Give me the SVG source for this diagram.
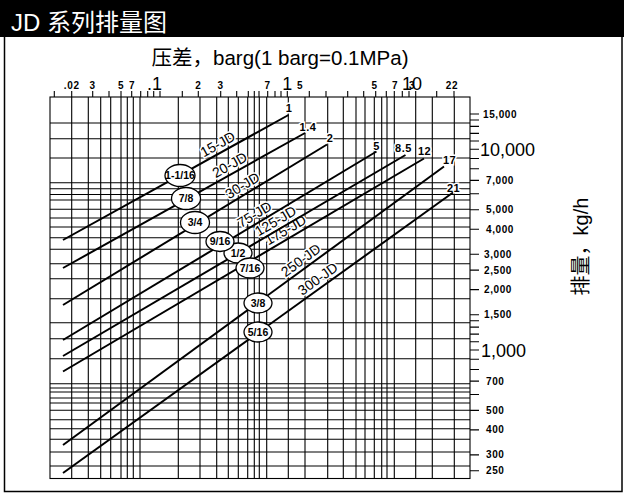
<svg xmlns="http://www.w3.org/2000/svg" width="624" height="493" viewBox="0 0 624 493">
<style>
.grid{stroke:#000;stroke-width:1.1;fill:none}
.frame{stroke:#000;stroke-width:1.5;fill:none}
.tick{stroke:#000;stroke-width:1.1;fill:none}
.curve{stroke:#000;stroke-width:2;fill:none;stroke-linecap:butt}
.sm{font-family:"Liberation Sans",Arial,sans-serif;font-weight:bold;font-size:10px;fill:#000;letter-spacing:0.6px}
.big{font-family:"Liberation Sans",Arial,sans-serif;font-size:18px;fill:#000}
.end{font-family:"Liberation Sans",Arial,sans-serif;font-weight:bold;font-size:11px;fill:#000;text-anchor:middle;stroke:#fff;stroke-width:3;paint-order:stroke;letter-spacing:0.5px}
.jd{font-family:"Liberation Sans",Arial,sans-serif;font-size:14px;fill:#000;text-anchor:middle;stroke:#fff;stroke-width:3;paint-order:stroke}
.node ellipse{fill:#fff;stroke:#000;stroke-width:1.3}
.node text{font-family:"Liberation Sans",Arial,sans-serif;font-weight:bold;font-size:10.5px;fill:#000;text-anchor:middle}
</style>
<rect x="0" y="0" width="624" height="493" fill="#fff"/>
<g id="header">
<rect x="0" y="0" width="624" height="37" fill="#000"/>
<text x="11" y="31" font-family="'Liberation Sans','Noto Sans CJK SC',sans-serif" font-size="24" fill="#fff">JD 系列排量图</text>
</g>
<rect class="frame" x="4.5" y="36" width="617.5" height="455.5"/>
<text x="280" y="65" text-anchor="middle" font-family="'Liberation Sans','Noto Sans CJK SC',sans-serif" font-size="20.5" fill="#000">压差，barg(1 barg=0.1MPa)</text>
<text transform="translate(588,246.5) rotate(-90)" text-anchor="middle" font-family="'Liberation Sans','Noto Sans CJK SC',sans-serif" font-size="20" fill="#000">排量，kg/h</text>

<g id="grid">
<rect class="grid" x="50" y="97" width="420" height="381.5" stroke-width="1.4"/>
<path class="grid" d="M50 123H470M50 138.7H470M50 158H470M50 182.7H470M50 188.7H470M50 194.5H470M50 200H470M50 209.3H470M50 218H470M50 227H470M50 237.7H470M50 249.3H470M50 263.7H470M50 278.7H470M50 298.7H470M50 322.7H470M50 338.7H470M50 358.7H470M50 383.7H470M50 388H470M50 392H470M50 398H470M50 403H470M50 410.3H470M50 419.7H470M50 428.7H470M50 439.3H470M50 452H470M50 466H470"/>
<path class="grid" d="M71.7 97V478.5M88.3 97V478.5M100.7 97V478.5M110.7 97V478.5M121 97V478.5M127.3 97V478.5M133.3 97V478.5M140 97V478.5M178.3 97V478.5M200 97V478.5M216.7 97V478.5M228.3 97V478.5M238.3 97V478.5M247.7 97V478.5M254.3 97V478.5M259.3 97V478.5M266.7 97V478.5M288.3 97V478.5M305 97V478.5M327.7 97V478.5M343.3 97V478.5M356 97V478.5M365 97V478.5M374.3 97V478.5M381.7 97V478.5M387 97V478.5M394.3 97V478.5M415.7 97V478.5M432.3 97V478.5M454.3 97V478.5"/>
</g>

<g id="top-axis">
<path class="tick" d="M54.3 91V97M71.7 91V97M92.7 91V97M109 91V97M121 91V97M131.7 91V97M140.7 91V97M147.7 91V97M153.7 91V97M160 91V97M182.3 91V97M198.3 91V97M220.7 91V97M236.7 91V97M248.3 91V97M254.3 91V97M259 91V97M267.7 91V97M275 91V97M281 91V97M287.3 91V97M309.3 91V97M326 91V97M347.7 91V97M363.7 91V97M375.7 91V97M386.3 91V97M394.3 91V97M402.3 91V97M409 91V97M415.7 91V97M436.7 91V97M454 91V97"/>
<text class="sm" x="71.7" y="88.5" text-anchor="middle">.02</text>
<text class="sm" x="92.7" y="88.5" text-anchor="middle">3</text>
<text class="sm" x="121" y="88.5" text-anchor="middle">5</text>
<text class="sm" x="132" y="88.5" text-anchor="middle">7</text>
<text class="big" x="162" y="89.5" text-anchor="end">.1</text>
<text class="sm" x="198.3" y="88.5" text-anchor="middle">2</text>
<text class="sm" x="220.7" y="88.5" text-anchor="middle">3</text>
<text class="sm" x="267.7" y="88.5" text-anchor="middle">7</text>
<text class="big" x="287.3" y="90" text-anchor="middle">1</text>
<text class="sm" x="300" y="88.5" text-anchor="middle">5</text>
<text class="sm" x="374.5" y="88.5" text-anchor="middle">5</text>
<text class="sm" x="395" y="88.5" text-anchor="middle">7</text>
<text class="big" x="402" y="90">10</text>
<text class="sm" x="412" y="88.5" text-anchor="middle">3</text>
<text class="sm" x="452" y="88.5" text-anchor="middle" letter-spacing="-1.5">22</text>
</g>

<g id="right-axis">
<path class="tick" d="M470 470.8H479M470 454.9H479M470 429.9H479M470 410.4H479M470 394.5H479M470 381.1H479M470 369.5H479M470 359.2H479M470 350H479M470 341.7H479M470 334.1H479M470 327.1H479M470 320.7H479M470 314.7H479M470 289.6H479M470 270.1H479M470 254.2H479M470 229.2H479M470 209.7H479M470 193.8H479M470 180.4H479M470 168.8H479M470 158.5H479M470 149.3H479M470 141H479M470 133.4H479M470 126.4H479M470 120H479M470 114H479"/>
<text class="sm" x="483" y="117.5">15,000</text>
<text class="big" x="480" y="156">10,000</text>
<text class="sm" x="486" y="184">7,000</text>
<text class="sm" x="486" y="213.2">5,000</text>
<text class="sm" x="486" y="232.7">4,000</text>
<text class="sm" x="484" y="257.7">3,000</text>
<text class="sm" x="484" y="273.6">2,500</text>
<text class="sm" x="484" y="293.1">2,000</text>
<text class="sm" x="484" y="318.2">1,500</text>
<text class="big" x="481" y="356.5">1,000</text>
<text class="sm" x="486" y="384.6">700</text>
<text class="sm" x="486" y="413.9">500</text>
<text class="sm" x="486" y="433.4">400</text>
<text class="sm" x="486" y="458.4">300</text>
<text class="sm" x="486" y="474.3">250</text>
</g>

<g id="line-labels">
<text class="jd" transform="translate(222,151.9) rotate(-29)" y="-4">15-JD</text>
<text class="jd" transform="translate(234,172.6) rotate(-29.2)" y="-4">20-JD</text>
<text class="jd" transform="translate(247,193.1) rotate(-31.3)" y="-4">30-JD</text>
<text class="jd" transform="translate(259,222.1) rotate(-31)" y="-4">75-JD</text>
<text class="jd" transform="translate(280,228.6) rotate(-30.4)" y="-4">125-JD</text>
<text class="jd" transform="translate(290,237.6) rotate(-30.5)" y="-4">175-JD</text>
<text class="jd" transform="translate(306,267.4) rotate(-36.2)" y="-4">250-JD</text>
<text class="jd" transform="translate(323,286) rotate(-35.7)" y="-4">300-JD</text>
<text class="end" x="289" y="111.5">1</text>
<text class="end" x="308" y="131">1.4</text>
<text class="end" x="330" y="142">2</text>
<text class="end" x="376.5" y="150">5</text>
<text class="end" x="403.5" y="151.5">8.5</text>
<text class="end" x="424.5" y="155">12</text>
<text class="end" x="449.5" y="164">17</text>
<text class="end" x="453.5" y="191.5">21</text>
</g>

<g id="connectors">
<line class="curve" x1="63" y1="240" x2="288.5" y2="115"/>
<line class="curve" x1="63" y1="268" x2="305" y2="133"/>
<line class="curve" x1="63" y1="305" x2="327" y2="144.5"/>
<line class="curve" x1="63" y1="340" x2="376.5" y2="151.5"/>
<line class="curve" x1="63" y1="356" x2="405.5" y2="155"/>
<line class="curve" x1="63" y1="371.5" x2="424" y2="158.5"/>
<line class="curve" x1="63" y1="445" x2="444" y2="166.5"/>
<line class="curve" x1="63" y1="473" x2="453" y2="192.5"/>
</g>

<g id="node-1-1-16" class="node"><ellipse cx="180" cy="175.5" rx="15" ry="11"/><text x="180" y="178.5" font-size="8">1-1/16</text></g>
<g id="node-7-8" class="node"><ellipse cx="186" cy="198.5" rx="14.5" ry="11"/><text x="186" y="202.2">7/8</text></g>
<g id="node-3-4" class="node"><ellipse cx="195" cy="222.5" rx="14.5" ry="11"/><text x="195" y="226.2">3/4</text></g>
<g id="node-1-2" class="node"><ellipse cx="238" cy="253" rx="14" ry="10"/><text x="238" y="256.7">1/2</text></g>
<g id="node-9-16" class="node"><ellipse cx="220" cy="241.5" rx="14" ry="10"/><text x="220" y="245.2">9/16</text></g>
<g id="node-7-16" class="node"><ellipse cx="250" cy="268" rx="14" ry="10"/><text x="250" y="271.7">7/16</text></g>
<g id="node-3-8" class="node"><ellipse cx="258" cy="303" rx="14" ry="10"/><text x="258" y="306.7">3/8</text></g>
<g id="node-5-16" class="node"><ellipse cx="258" cy="332" rx="14" ry="10"/><text x="258" y="335.7">5/16</text></g>
</svg>
